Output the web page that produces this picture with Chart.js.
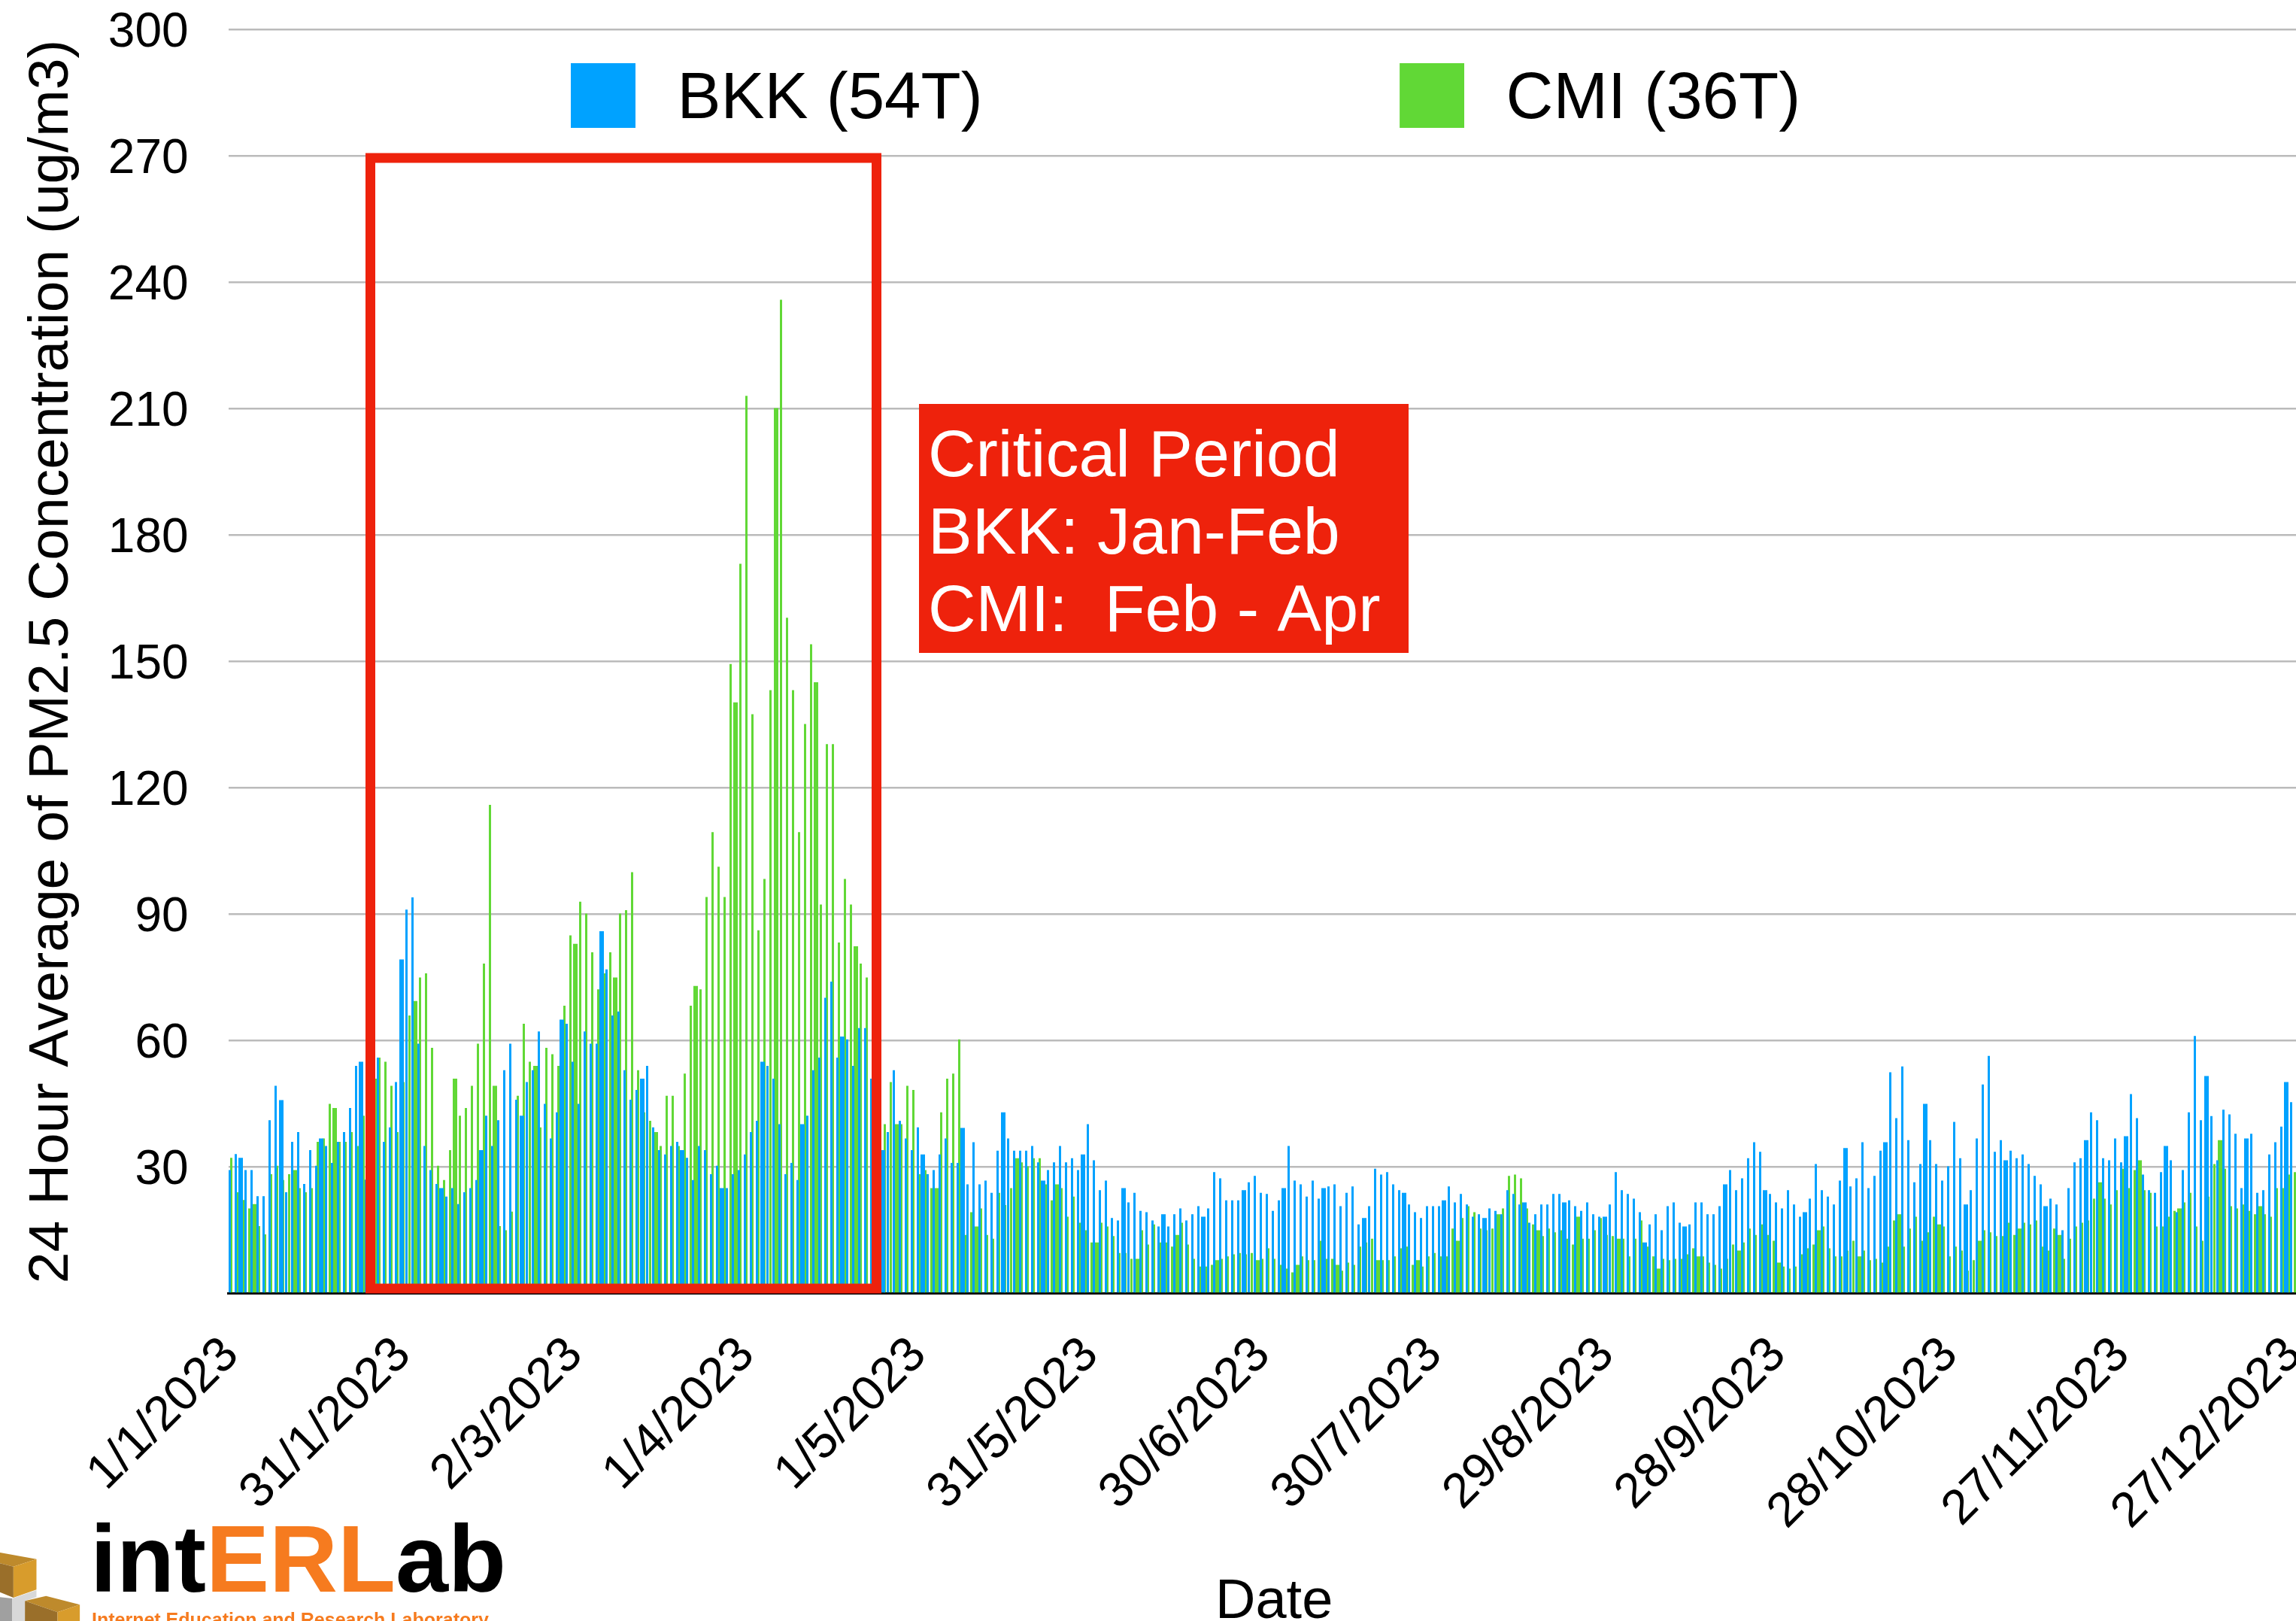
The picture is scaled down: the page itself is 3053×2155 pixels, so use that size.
<!DOCTYPE html>
<html>
<head>
<meta charset="utf-8">
<style>html,body{margin:0;padding:0;background:#fff;overflow:hidden;width:3053px;height:2155px}canvas{display:block}</style>
<script src="https://cdn.jsdelivr.net/npm/chart.js@4"></script>
</head>
<body>
<canvas id="c" width="3090" height="2155"></canvas>
<script>
const tickLabels = ['1/1/2023','31/1/2023','2/3/2023','1/4/2023','1/5/2023','31/5/2023','30/6/2023','30/7/2023','29/8/2023','28/9/2023','28/10/2023','27/11/2023','27/12/2023'];
const seriesNames = ['BKK (54T)','CMI (36T)'];
const bkk = [
29.3,33.1,32.2,29.3,29.3,23.1,23.1,41.1,49.3,45.9,
24,36,38.3,26,34,30.3,36.8,35,31,36,
38.3,44,54,55,27,50,56,36,39.4,50.2,
79.3,91.1,94,59.3,35,29.3,26,25,23,25,
21.2,24,25,26.9,34,42.2,35,41.1,53,59.3,
46,42.2,50.2,53,62.2,45,36.8,43,65,64,
55,45,62.2,59.3,59.3,86,76.9,66,66.9,53,
46,48.3,51,54,39.4,34,33,35,36,34,
32.2,26.9,35,34,28.3,30.3,25,25,28.3,29.3,
33,38.3,41,55,54,51,40.2,28.3,31,26.9,
40.2,42.2,53,56,70.2,74,56,61,60.3,54,
63,63,51,60,34,38.3,53,41,36.8,34,
39.4,33,28.3,29.3,33,36.8,31,31,39.3,25.9,
35.9,25.9,26.8,23.9,33.9,43,36.8,33.9,33.9,33.9,
35,31.1,26.8,29.3,31.1,35,31.1,32.1,29.3,33,
40.2,31.6,24.5,26.8,17.9,17.3,25,21.6,23.9,19.6,
19.3,17.3,15.9,18.8,15.9,18.8,20.2,17.3,18.8,20.7,
18.2,20.2,28.8,27.3,22.1,22.1,22.1,24.5,26.4,27.9,
23.9,23.6,19.6,22.1,25,35,26.8,25.9,23,26.8,
22.5,25,25.4,25.9,20.7,23.9,25.4,16.4,17.9,20.7,
29.6,28.2,28.8,25.9,24.5,23.9,21.1,19.3,17.9,20.7,
20.7,20.7,22.1,25.4,21.6,23.6,21.1,18.2,18.8,17.9,
20.2,19.6,18.8,24.5,23.6,21.1,21.6,16.8,18.8,21.1,
21.1,23.6,23.6,21.6,22.1,20.7,19.6,21.6,18.8,18.2,
18.2,21.1,28.8,24.5,23.6,22.5,19.3,12.1,16.4,18.8,
15,20.7,21.6,16.8,15.9,16.4,21.6,21.6,18.8,18.8,
20.7,25.9,29.3,24.5,27.3,32.1,35.9,33.6,24.5,23.6,
21.6,20.2,24.5,21.1,18.2,19.3,22.5,30.7,24.5,23,
21.1,26.8,34.5,25.4,27.3,35.9,25,27.9,33.9,35.9,
52.5,41.6,53.9,36.4,26.4,30.7,45,36.4,30.7,26.8,
30.2,40.7,32.1,21.1,24.5,36.8,49.6,56.4,33.6,36.4,
31.6,33.9,32.1,33,30.7,27.9,25.9,20.7,22.5,21.1,
15,25,31.1,32.1,36.4,43,41.1,32.1,31.6,36.8,
31.1,37.3,47.3,41.6,28.2,24.5,23.9,28.8,35,31.6,
19.3,29.3,43,61.1,41.1,51.6,42.1,31.6,43.6,42.5,
37.9,25,36.8,37.9,23.9,24.5,33,35.9,39.6,50.2,45.4];
const cmi = [
32.2,24,22.2,20.2,21.2,16,14,28.3,30.3,26.9,
28.3,29.3,25,24,25,36,36.8,45,44,36,
36,38.3,35,42.2,40,51,56,55,49.3,38.3,
50.2,66,69.4,75,76,58.3,30.3,26.9,34,51,
42.2,44,49.3,59.3,78.3,116,49.3,16,15,19.4,
46.9,64,55,54,39.4,58.3,56.8,54,68.3,85,
83,93,90.2,81,72.2,76,81,75,90.2,91,
100,53,43,41,38.3,35,46.9,46.9,35,52.2,
68.3,73,72.2,94.1,109.5,101.3,94.1,149.4,140.3,173.2,
213.1,137.5,86.2,98.4,143.2,210.2,235.9,160.4,143.2,109.5,
135.2,154.1,145.1,92.3,130.4,130.4,83.3,98.4,92.3,82.4,
78.3,75,70,65,40.2,50.2,40.2,40.2,49.3,48.3,
28.3,29.3,25,25,43,51,52.2,60.3,13.9,19.3,
15.9,20.2,13.9,13,23.9,21,25,32.1,31.1,30.2,
32.1,32.1,25.9,22.1,25.9,25,18.2,23,16.8,15,
12.1,12.1,16.8,15.9,13.6,9.6,9.6,8.2,8.2,15,
11.6,16.4,12.1,12.1,11.1,13.9,16.8,11.6,8.2,6.4,
6.4,6.8,7.9,8.2,8.8,9.3,9.6,9.3,9.6,7.9,
8.2,10.7,8.2,6.8,5.9,5,6.8,8.8,7.9,7.9,
12.5,8.2,8.2,6.8,5.4,7.3,6.8,11.1,12.1,13,
7.9,7.9,7.9,8.8,10.7,11.1,6.8,7.9,6.4,8.8,
9.6,8.8,8.8,15.4,12.5,17.9,20.7,19.3,15.4,15,
15.4,18.8,20.2,27.9,28.2,27.3,20.2,16.4,15,13.6,
15.4,14.5,15,13,11.6,18.2,13,13,15,17.9,
13.9,13.6,13,13,8.8,13,17.3,11.1,8.8,5.9,
8.2,7.9,8.2,8.2,9.3,10.7,8.8,8.8,7.3,6.8,
5.9,8.2,11.6,10.2,12.1,15.4,13.9,16.4,13.9,12.5,
7.3,6.4,5.9,6.4,9.3,10.7,11.6,15,15.9,10.7,
8.8,8.8,10.2,12.5,8.8,10.2,7.9,8.2,7.3,11.1,
17.3,18.8,11.1,15.4,18.2,12.5,14.5,18.2,16.4,15.9,
8.8,11.1,10.2,5.4,7.9,12.5,15,14.5,13.6,13.6,
16.8,13.9,15.4,16.8,16.4,17.3,11.1,10.2,15.4,13.9,
8.2,13,15.9,16.8,17.3,22.5,26.4,22.5,21.1,24.5,
29.6,25,29.3,31.6,24.5,23.9,15.9,15.9,18.2,19.6,
20.2,21.6,23.9,15.9,12.5,23,30.7,36.4,29.6,20.7,
20.2,21.1,19.6,18.8,20.7,18.8,18.2,25,25,28.2,28.8];
const noteLines = ['Critical Period','BKK: Jan-Feb','CMI:  Feb - Apr'];

const FONT = '"Liberation Sans", Arial, sans-serif';
Chart.defaults.font.family = FONT;
Chart.defaults.color = '#000';

// every day of the year is a category; a tick label is shown on every 30th
const categories = [];
for (let d = new Date(2023,0,1); d.getFullYear() === 2023; d.setDate(d.getDate()+1)) {
  categories.push(d.getDate()+'/'+(d.getMonth()+1)+'/2023');
}
const TICK_EVERY = 30;

// Snap bars to the coarse pixel grid the reference was upscaled from
const GRID = 8/3;
const snapBars = {
  id:'snapBars',
  afterDatasetsUpdate(chart){
    [304,306].forEach((origin,di)=>{
      chart.getDatasetMeta(di).data.forEach(el=>{
        const k=(el.x-el.width/2-origin)/GRID, n=el.width/GRID;
        const units=Math.floor(k+n)-Math.floor(k);
        const L=Math.round(origin+GRID*Math.floor(k));
        const w=units>1?6:3;
        el.x=L+w/2; el.width=w;
      });
    });
  }
};
const placeLegend = {
  id:'placeLegend',
  beforeLayout(chart){
    const lg=chart.legend;
    if(!lg.__wrapped){
      const fit=lg.fit;
      lg.fit=function(){fit.call(this);this.height=0;};
      lg.__wrapped=true;
    }
  },
  afterLayout(chart){
    const lg=chart.legend, pad=lg.options.labels.padding;
    lg.left=759-pad; lg.right=lg.left+3000; lg.top=84-pad; lg.bottom=400;
  }
};
function poly(ctx,color,pts){
  ctx.fillStyle=color;ctx.beginPath();
  pts.forEach((p,i)=>{const x=p[0]/1.96,y=1950+p[1]/3;i?ctx.lineTo(x,y):ctx.moveTo(x,y);});
  ctx.closePath();ctx.fill();
}
const overlay = {
  id:'overlay',
  afterDatasetsDraw(chart){
    const ctx=chart.ctx;ctx.save();
    // trim legend swatches to their drawn size (the layout box is larger, to place the text)
    ctx.fillStyle='#fff';
    [759,1861].forEach(x=>{ctx.fillRect(x+86,84,14,100);ctx.fillRect(x,170,100,14);});
    ctx.strokeStyle='#EE220C';ctx.lineWidth=13;
    ctx.strokeRect(492.5,210,673,1503);
    ctx.fillStyle='#EE220C';ctx.fillRect(1222,537,651,331);
    ctx.fillStyle='#fff';ctx.font='88px '+FONT;ctx.textBaseline='alphabetic';ctx.textAlign='left';
    noteLines.forEach((t,i)=>ctx.fillText(t,1234,633+i*103));
    ctx.restore();
  },
  afterDraw(chart){
    const ctx=chart.ctx;ctx.save();
    ctx.textAlign='left';ctx.textBaseline='alphabetic';
    ctx.font='bold 126px '+FONT;
    let x=120;
    [['int','#000'],['ERL','#F67B1F'],['ab','#000']].forEach(([t,col])=>{
      ctx.fillStyle=col;ctx.fillText(t,x,2116);x+=ctx.measureText(t).width;
    });
    ctx.fillStyle='#F67B1F';ctx.font='bold 25px '+FONT;
    ctx.fillText('Internet Education and Research Laboratory',122,2162);
    poly(ctx,'#BE8A2C',[[0,342],[95,368],[35,398],[0,385]]);
    poly(ctx,'#9A6F2A',[[0,385],[35,398],[35,522],[0,500]]);
    poly(ctx,'#D89C2C',[[35,398],[95,368],[95,490],[35,522]]);
    poly(ctx,'#A0A0A0',[[0,520],[32,525],[32,615],[0,615]]);
    poly(ctx,'#D8D8D8',[[32,525],[95,492],[95,520],[65,535],[65,615],[32,615]]);
    poly(ctx,'#BE8A2C',[[65,535],[120,515],[208,550],[150,580]]);
    poly(ctx,'#9A6F2A',[[65,535],[150,580],[150,615],[65,615]]);
    poly(ctx,'#D89C2C',[[150,580],[208,550],[208,615],[150,615]]);
    ctx.restore();
  }
};
function noPadding(s){s.paddingLeft=0;s.paddingRight=0;s.paddingTop=0;s.paddingBottom=0;}

new Chart(document.getElementById('c'),{
  type:'bar',
  data:{labels:categories,datasets:[
    {label:seriesNames[0],data:bkk,backgroundColor:'#00A2FF',borderWidth:0},
    {label:seriesNames[1],data:cmi,backgroundColor:'#61D836',borderWidth:0}
  ]},
  plugins:[snapBars,placeLegend,overlay],
  options:{
    responsive:false,animation:false,
    layout:{padding:{top:39.5,right:5.4,left:0,bottom:0}},
    datasets:{bar:{categoryPercentage:0.735,barPercentage:1.096}},
    plugins:{
      tooltip:{enabled:false},
      legend:{display:true,position:'top',align:'start',
        labels:{boxWidth:98,boxHeight:98,padding:554.5,color:'#000',font:{size:87}}}
    },
    scales:{
      x:{
        type:'category',offset:true,
        afterFit(s){s.height=2155-1719.5;noPadding(s);},
        grid:{display:false,drawTicks:false},
        border:{display:true,color:'#000',width:3},
        ticks:{autoSkip:false,minRotation:45,maxRotation:45,padding:44,color:'#000',font:{size:65},
          callback(v,i){return i%TICK_EVERY===0?tickLabels[i/TICK_EVERY]:'';}},
        title:{display:true,text:'Date',color:'#000',font:{size:74,lineHeight:0.65},padding:0}
      },
      y:{
        min:0,max:300,
        afterFit(s){s.width=303.65;noPadding(s);},
        grid:{color:'#BBBBBB',lineWidth:2.5,drawTicks:false},
        border:{display:false},
        ticks:{stepSize:30,padding:53,labelOffset:5,color:'#000',font:{size:64},
          callback(v){return v===0?'':v;}},
        title:{display:true,text:'24 Hour Average of PM2.5 Concentration (ug/m3)',color:'#000',
          font:{size:75,lineHeight:1.2},padding:{top:24,bottom:0}}
      }
    }
  }
});
</script>
</body>
</html>
